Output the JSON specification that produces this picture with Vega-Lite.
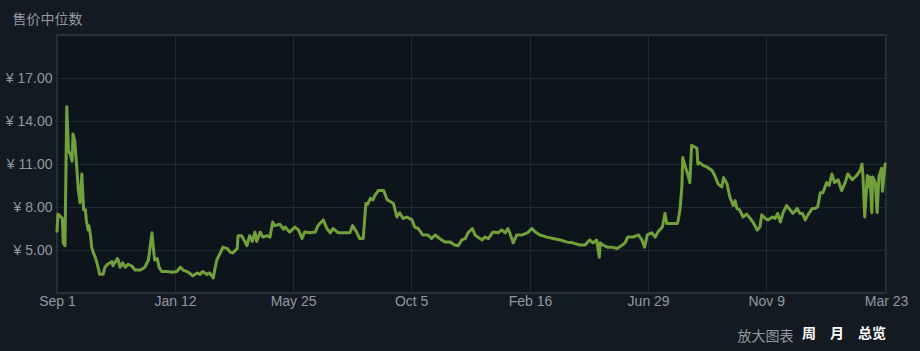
{
  "$schema": "https://vega.github.io/schema/vega-lite/v6.json",
  "width": 829,
  "height": 258,
  "autosize": {"type": "none"},
  "padding": {"left": 57, "top": 35, "right": 34, "bottom": 58},
  "background": "#141a22",
  "config": {
    "view": {"stroke": "#28313b", "strokeWidth": 2, "fill": "#0e141c"},
    "axis": {
      "labelFont": "Liberation Sans",
      "labelFontSize": 14,
      "labelColor": "#9099a1",
      "gridColor": "#1f2a35",
      "gridWidth": 1,
      "gridOpacity": 1,
      "domain": false,
      "ticks": false,
      "titleFont": "Noto Sans CJK SC",
      "titleFontSize": 14,
      "titleFontWeight": "normal",
      "titleColor": "#9099a1"
    }
  },
  "title": {
    "text": "周　月　总览",
    "orient": "bottom",
    "anchor": "end",
    "frame": "group",
    "font": "Noto Sans CJK SC",
    "fontSize": 14,
    "fontWeight": "bold",
    "color": "#ffffff",
    "offset": 0,
    "dy": -16
  },
  "data": {
    "values": [
      {"date": "2021-09-01", "price": 6.3},
      {"date": "2021-09-02", "price": 7.5},
      {"date": "2021-09-04", "price": 7.4},
      {"date": "2021-09-07", "price": 7.2},
      {"date": "2021-09-08", "price": 5.5},
      {"date": "2021-09-10", "price": 5.3},
      {"date": "2021-09-12", "price": 15.0},
      {"date": "2021-09-14", "price": 11.9},
      {"date": "2021-09-16", "price": 11.7},
      {"date": "2021-09-18", "price": 11.2},
      {"date": "2021-09-19", "price": 13.1},
      {"date": "2021-09-21", "price": 12.6},
      {"date": "2021-09-23", "price": 11.0},
      {"date": "2021-09-25", "price": 9.2},
      {"date": "2021-09-27", "price": 8.3},
      {"date": "2021-09-29", "price": 10.3},
      {"date": "2021-10-01", "price": 7.8},
      {"date": "2021-10-03", "price": 7.8},
      {"date": "2021-10-04", "price": 7.1},
      {"date": "2021-10-06", "price": 6.4},
      {"date": "2021-10-07", "price": 6.7},
      {"date": "2021-10-09", "price": 5.9},
      {"date": "2021-10-10", "price": 5.2},
      {"date": "2021-10-12", "price": 4.8},
      {"date": "2021-10-14", "price": 4.5},
      {"date": "2021-10-16", "price": 4.1},
      {"date": "2021-10-18", "price": 3.6},
      {"date": "2021-10-19", "price": 3.3},
      {"date": "2021-10-23", "price": 3.3},
      {"date": "2021-10-25", "price": 3.8},
      {"date": "2021-10-28", "price": 4.0},
      {"date": "2021-11-02", "price": 4.2},
      {"date": "2021-11-03", "price": 3.9},
      {"date": "2021-11-08", "price": 4.4},
      {"date": "2021-11-09", "price": 4.3},
      {"date": "2021-11-11", "price": 3.8},
      {"date": "2021-11-14", "price": 4.1},
      {"date": "2021-11-17", "price": 3.8},
      {"date": "2021-11-20", "price": 4.0},
      {"date": "2021-11-24", "price": 3.9},
      {"date": "2021-11-28", "price": 3.6},
      {"date": "2021-12-04", "price": 3.6},
      {"date": "2021-12-09", "price": 3.8},
      {"date": "2021-12-13", "price": 4.3},
      {"date": "2021-12-17", "price": 6.2},
      {"date": "2021-12-18", "price": 5.5},
      {"date": "2021-12-20", "price": 4.3},
      {"date": "2021-12-23", "price": 4.4},
      {"date": "2021-12-25", "price": 3.8},
      {"date": "2021-12-28", "price": 3.5},
      {"date": "2022-01-03", "price": 3.5},
      {"date": "2022-01-09", "price": 3.45},
      {"date": "2022-01-14", "price": 3.5},
      {"date": "2022-01-18", "price": 3.8},
      {"date": "2022-01-21", "price": 3.6},
      {"date": "2022-01-27", "price": 3.45},
      {"date": "2022-02-01", "price": 3.2},
      {"date": "2022-02-06", "price": 3.4},
      {"date": "2022-02-09", "price": 3.3},
      {"date": "2022-02-12", "price": 3.5},
      {"date": "2022-02-17", "price": 3.3},
      {"date": "2022-02-20", "price": 3.4},
      {"date": "2022-02-24", "price": 3.05},
      {"date": "2022-02-28", "price": 4.3},
      {"date": "2022-03-04", "price": 4.8},
      {"date": "2022-03-07", "price": 5.2},
      {"date": "2022-03-12", "price": 5.1},
      {"date": "2022-03-15", "price": 4.85},
      {"date": "2022-03-18", "price": 4.8},
      {"date": "2022-03-23", "price": 5.1},
      {"date": "2022-03-24", "price": 6.0},
      {"date": "2022-03-28", "price": 6.0},
      {"date": "2022-04-01", "price": 5.55},
      {"date": "2022-04-03", "price": 5.3},
      {"date": "2022-04-06", "price": 6.0},
      {"date": "2022-04-09", "price": 5.6},
      {"date": "2022-04-12", "price": 6.25},
      {"date": "2022-04-14", "price": 5.6},
      {"date": "2022-04-18", "price": 6.25},
      {"date": "2022-04-21", "price": 5.9},
      {"date": "2022-04-26", "price": 6.0},
      {"date": "2022-04-29", "price": 5.9},
      {"date": "2022-05-02", "price": 6.95},
      {"date": "2022-05-04", "price": 6.7},
      {"date": "2022-05-10", "price": 6.8},
      {"date": "2022-05-14", "price": 6.45},
      {"date": "2022-05-16", "price": 6.6},
      {"date": "2022-05-21", "price": 6.25},
      {"date": "2022-05-27", "price": 6.6},
      {"date": "2022-05-31", "price": 6.4},
      {"date": "2022-06-04", "price": 5.8},
      {"date": "2022-06-07", "price": 6.25},
      {"date": "2022-06-13", "price": 6.2},
      {"date": "2022-06-19", "price": 6.25},
      {"date": "2022-06-22", "price": 6.7},
      {"date": "2022-06-28", "price": 7.1},
      {"date": "2022-07-02", "price": 6.5},
      {"date": "2022-07-06", "price": 6.2},
      {"date": "2022-07-09", "price": 6.5},
      {"date": "2022-07-15", "price": 6.2},
      {"date": "2022-07-22", "price": 6.2},
      {"date": "2022-07-28", "price": 6.2},
      {"date": "2022-07-31", "price": 6.7},
      {"date": "2022-08-05", "price": 6.2},
      {"date": "2022-08-08", "price": 5.8},
      {"date": "2022-08-12", "price": 5.8},
      {"date": "2022-08-15", "price": 8.25},
      {"date": "2022-08-17", "price": 8.2},
      {"date": "2022-08-20", "price": 8.6},
      {"date": "2022-08-23", "price": 8.5},
      {"date": "2022-08-25", "price": 8.8},
      {"date": "2022-08-29", "price": 9.15},
      {"date": "2022-09-02", "price": 9.15},
      {"date": "2022-09-04", "price": 9.15},
      {"date": "2022-09-08", "price": 8.5},
      {"date": "2022-09-11", "price": 8.4},
      {"date": "2022-09-15", "price": 8.25},
      {"date": "2022-09-19", "price": 7.3},
      {"date": "2022-09-22", "price": 7.6},
      {"date": "2022-09-26", "price": 7.2},
      {"date": "2022-09-30", "price": 7.3},
      {"date": "2022-10-06", "price": 7.1},
      {"date": "2022-10-09", "price": 6.6},
      {"date": "2022-10-13", "price": 6.5},
      {"date": "2022-10-18", "price": 6.05},
      {"date": "2022-10-24", "price": 6.05},
      {"date": "2022-10-28", "price": 5.8},
      {"date": "2022-11-01", "price": 6.05},
      {"date": "2022-11-06", "price": 5.8},
      {"date": "2022-11-12", "price": 5.55},
      {"date": "2022-11-18", "price": 5.55},
      {"date": "2022-11-23", "price": 5.35},
      {"date": "2022-11-27", "price": 5.3},
      {"date": "2022-12-01", "price": 5.7},
      {"date": "2022-12-05", "price": 5.8},
      {"date": "2022-12-08", "price": 6.2},
      {"date": "2022-12-13", "price": 6.5},
      {"date": "2022-12-16", "price": 6.05},
      {"date": "2022-12-19", "price": 5.9},
      {"date": "2022-12-24", "price": 5.7},
      {"date": "2022-12-27", "price": 5.9},
      {"date": "2022-12-31", "price": 5.8},
      {"date": "2023-01-05", "price": 6.25},
      {"date": "2023-01-11", "price": 6.2},
      {"date": "2023-01-15", "price": 6.4},
      {"date": "2023-01-19", "price": 6.2},
      {"date": "2023-01-22", "price": 6.5},
      {"date": "2023-01-24", "price": 6.2},
      {"date": "2023-01-28", "price": 5.5},
      {"date": "2023-02-01", "price": 6.05},
      {"date": "2023-02-07", "price": 6.05},
      {"date": "2023-02-13", "price": 6.2},
      {"date": "2023-02-18", "price": 6.5},
      {"date": "2023-02-22", "price": 6.25},
      {"date": "2023-02-27", "price": 6.05},
      {"date": "2023-03-07", "price": 5.9},
      {"date": "2023-03-14", "price": 5.8},
      {"date": "2023-03-22", "price": 5.7},
      {"date": "2023-03-30", "price": 5.55},
      {"date": "2023-04-05", "price": 5.5},
      {"date": "2023-04-13", "price": 5.35},
      {"date": "2023-04-19", "price": 5.35},
      {"date": "2023-04-24", "price": 5.7},
      {"date": "2023-04-28", "price": 5.5},
      {"date": "2023-05-02", "price": 5.7},
      {"date": "2023-05-05", "price": 4.5},
      {"date": "2023-05-06", "price": 5.5},
      {"date": "2023-05-09", "price": 5.35},
      {"date": "2023-05-14", "price": 5.2},
      {"date": "2023-05-19", "price": 5.2},
      {"date": "2023-05-25", "price": 5.1},
      {"date": "2023-05-31", "price": 5.35},
      {"date": "2023-06-03", "price": 5.5},
      {"date": "2023-06-06", "price": 5.9},
      {"date": "2023-06-12", "price": 5.9},
      {"date": "2023-06-18", "price": 6.05},
      {"date": "2023-06-22", "price": 5.7},
      {"date": "2023-06-25", "price": 5.2},
      {"date": "2023-06-28", "price": 6.05},
      {"date": "2023-07-03", "price": 6.2},
      {"date": "2023-07-07", "price": 5.9},
      {"date": "2023-07-10", "price": 6.25},
      {"date": "2023-07-15", "price": 6.6},
      {"date": "2023-07-18", "price": 7.55},
      {"date": "2023-07-20", "price": 6.85},
      {"date": "2023-07-26", "price": 6.85},
      {"date": "2023-08-01", "price": 6.85},
      {"date": "2023-08-02", "price": 7.1},
      {"date": "2023-08-04", "price": 7.9},
      {"date": "2023-08-06", "price": 9.4},
      {"date": "2023-08-07", "price": 11.45},
      {"date": "2023-08-10", "price": 10.8},
      {"date": "2023-08-13", "price": 10.2},
      {"date": "2023-08-15", "price": 9.7},
      {"date": "2023-08-17", "price": 12.3},
      {"date": "2023-08-20", "price": 12.2},
      {"date": "2023-08-23", "price": 12.1},
      {"date": "2023-08-24", "price": 11.0},
      {"date": "2023-08-26", "price": 11.1},
      {"date": "2023-08-30", "price": 10.9},
      {"date": "2023-09-03", "price": 10.8},
      {"date": "2023-09-09", "price": 10.55},
      {"date": "2023-09-12", "price": 10.2},
      {"date": "2023-09-16", "price": 9.6},
      {"date": "2023-09-20", "price": 9.4},
      {"date": "2023-09-22", "price": 10.05},
      {"date": "2023-09-26", "price": 9.6},
      {"date": "2023-09-29", "price": 8.7},
      {"date": "2023-10-03", "price": 8.1},
      {"date": "2023-10-05", "price": 8.45},
      {"date": "2023-10-07", "price": 7.9},
      {"date": "2023-10-10", "price": 7.8},
      {"date": "2023-10-14", "price": 7.3},
      {"date": "2023-10-18", "price": 7.5},
      {"date": "2023-10-22", "price": 7.2},
      {"date": "2023-10-25", "price": 6.95},
      {"date": "2023-10-30", "price": 6.4},
      {"date": "2023-11-02", "price": 6.6},
      {"date": "2023-11-04", "price": 7.45},
      {"date": "2023-11-08", "price": 7.2},
      {"date": "2023-11-11", "price": 7.1},
      {"date": "2023-11-16", "price": 7.3},
      {"date": "2023-11-19", "price": 7.2},
      {"date": "2023-11-22", "price": 7.55},
      {"date": "2023-11-25", "price": 6.95},
      {"date": "2023-11-28", "price": 7.6},
      {"date": "2023-12-02", "price": 8.1},
      {"date": "2023-12-06", "price": 7.8},
      {"date": "2023-12-09", "price": 7.55},
      {"date": "2023-12-14", "price": 7.9},
      {"date": "2023-12-17", "price": 7.55},
      {"date": "2023-12-20", "price": 7.55},
      {"date": "2023-12-23", "price": 7.1},
      {"date": "2023-12-26", "price": 7.45},
      {"date": "2023-12-31", "price": 7.9},
      {"date": "2024-01-03", "price": 7.9},
      {"date": "2024-01-06", "price": 8.0},
      {"date": "2024-01-09", "price": 9.0},
      {"date": "2024-01-12", "price": 9.0},
      {"date": "2024-01-16", "price": 9.7},
      {"date": "2024-01-19", "price": 9.5},
      {"date": "2024-01-22", "price": 10.3},
      {"date": "2024-01-25", "price": 9.7},
      {"date": "2024-01-29", "price": 9.9},
      {"date": "2024-02-02", "price": 9.15},
      {"date": "2024-02-06", "price": 9.7},
      {"date": "2024-02-09", "price": 10.3},
      {"date": "2024-02-14", "price": 9.9},
      {"date": "2024-02-19", "price": 10.2},
      {"date": "2024-02-23", "price": 10.55},
      {"date": "2024-02-25", "price": 11.0},
      {"date": "2024-02-26", "price": 10.2},
      {"date": "2024-02-28", "price": 7.3},
      {"date": "2024-03-02", "price": 10.2},
      {"date": "2024-03-03", "price": 9.4},
      {"date": "2024-03-05", "price": 10.1},
      {"date": "2024-03-07", "price": 7.6},
      {"date": "2024-03-08", "price": 10.1},
      {"date": "2024-03-11", "price": 9.7},
      {"date": "2024-03-13", "price": 7.6},
      {"date": "2024-03-15", "price": 10.1},
      {"date": "2024-03-18", "price": 10.7},
      {"date": "2024-03-19", "price": 9.1},
      {"date": "2024-03-22", "price": 11.0}
    ]
  },
  "mark": {"type": "line", "color": "#72a03b", "strokeWidth": 3, "strokeJoin": "round", "strokeCap": "round"},
  "encoding": {
    "x": {
      "field": "date",
      "type": "temporal",
      "scale": {
        "type": "utc",
        "domain": [
          {"year": 2021, "month": 9, "date": 1, "utc": true},
          {"year": 2024, "month": 3, "date": 23, "utc": true}
        ]
      },
      "axis": {
        "values": [
          {"year": 2021, "month": 9, "date": 1, "utc": true},
          {"year": 2022, "month": 1, "date": 12, "utc": true},
          {"year": 2022, "month": 5, "date": 25, "utc": true},
          {"year": 2022, "month": 10, "date": 5, "utc": true},
          {"year": 2023, "month": 2, "date": 16, "utc": true},
          {"year": 2023, "month": 6, "date": 29, "utc": true},
          {"year": 2023, "month": 11, "date": 9, "utc": true},
          {"year": 2024, "month": 3, "date": 23, "utc": true}
        ],
        "labelExpr": "utcFormat(datum.value, '%b %-d')",
        "labelFlush": false,
        "labelOverlap": false,
        "labelBound": false,
        "labelPadding": 1,
        "labelBaseline": "top",
        "title": "放大图表",
        "titleAlign": "right",
        "titleBaseline": "alphabetic",
        "titleX": 736,
        "titleY": 47,
        "titleAnchor": null
      }
    },
    "y": {
      "field": "price",
      "type": "quantitative",
      "scale": {"domain": [2, 20], "nice": false, "zero": false},
      "axis": {
        "values": [5, 8, 11, 14, 17],
        "labelExpr": "'¥ ' + format(datum.value, '.2f')",
        "labelPadding": 5,
        "title": "售价中位数",
        "titleAngle": 0,
        "titleAlign": "left",
        "titleBaseline": "alphabetic",
        "titleX": -45,
        "titleY": -12,
        "titleAnchor": null
      }
    }
  }
}
